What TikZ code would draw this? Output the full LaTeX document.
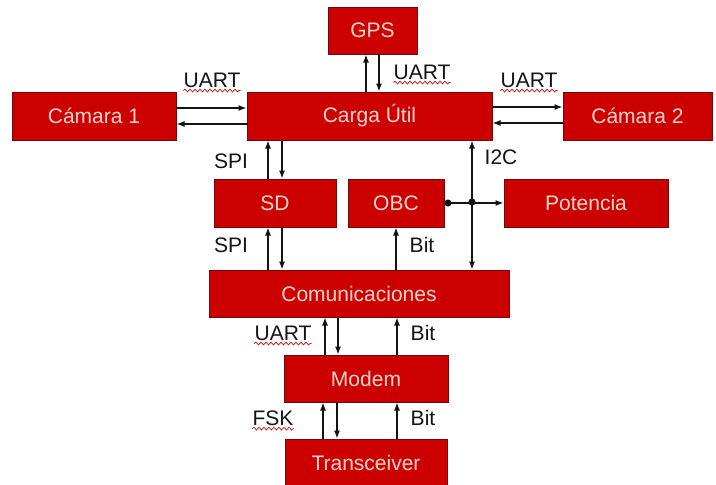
\documentclass[tikz,border=0pt]{standalone}
\usepackage{fontspec}
\setmainfont{Liberation Sans}
\usetikzlibrary{arrows.meta,decorations.pathmorphing}
\definecolor{boxred}{RGB}{204,0,0}
\definecolor{boxedge}{RGB}{110,10,10}
\definecolor{boxtext}{RGB}{255,214,204}
\definecolor{wire}{RGB}{20,20,20}
\definecolor{squigred}{RGB}{200,40,40}
\tikzset{
  box/.style={draw=boxedge, line width=1pt, fill=boxred, text=boxtext,
    inner sep=0pt, font=\fontsize{21}{24}\selectfont},
  lbl/.style={inner sep=0pt, text=wire, font=\fontsize{21}{24}\selectfont},
  arr/.style={draw=wire, line width=1.1pt, -{Latex[length=8pt,width=6pt]}},
  biarr/.style={draw=wire, line width=1.1pt, {Latex[length=8pt,width=6pt]}-{Latex[length=8pt,width=6pt]}},
  busarr/.style={draw=wire, line width=1.1pt, {Circle[length=7pt]}-{Latex[length=8pt,width=6pt]}},
  squig/.style={draw=squigred, line width=0.8pt, decorate,
    decoration={snake, amplitude=1.4pt, segment length=5pt}},
}
\newcommand{\boxat}[6]{% name, x1, y1, x2, y2, text
  \node[box, minimum width={(#4-#2)*1pt}, minimum height={(#5-#3)*1pt}]
    (#1) at ({(#2+#4)/2},{(#3+#5)/2}) {#6};}
\begin{document}
\begin{tikzpicture}[x=1pt, y=-1pt]
\useasboundingbox (0,0) rectangle (716,485);
\clip (0,0) rectangle (716,485);
\fill[white] (0,0) rectangle (716,485);

% blocks
\boxat{gps}{328}{7}{417}{54}{GPS}
\boxat{cam1}{12}{92}{176}{140}{Cámara 1}
\boxat{carga}{247}{92}{492}{140}{Carga Útil}
\boxat{cam2}{563}{92}{712}{140}{Cámara 2}
\boxat{sd}{214}{179}{336}{227}{SD}
\boxat{obc}{348}{179}{444}{227}{OBC}
\boxat{pot}{504}{179}{668}{227}{Potencia}
\boxat{com}{209}{270}{509}{317}{Comunicaciones}
\boxat{modem}{284}{355}{448}{402}{Modem}
\boxat{trans}{285}{439}{447}{486}{Transceiver}

% GPS link
\draw[arr] (carga.north -| 366,0) -- (gps.south -| 366,0);
\draw[arr] (gps.south -| 379,0) -- (carga.north -| 379,0);
\node[lbl] (uartgps) at (422,72) {UART};

% camera links
\draw[arr] (cam1.east |- 0,108) -- (carga.west |- 0,108);
\draw[arr] (carga.west |- 0,124) -- (cam1.east |- 0,124);
\node[lbl] (uartc1) at (212,80) {UART};
\draw[arr] (carga.east |- 0,107) -- (cam2.west |- 0,107);
\draw[arr] (cam2.west |- 0,123) -- (carga.east |- 0,123);
\node[lbl] (uartc2) at (529,80) {UART};

% SD links
\draw[arr] (sd.north -| 268,0) -- (carga.south -| 268,0);
\draw[arr] (carga.south -| 282,0) -- (sd.north -| 282,0);
\node[lbl] (spi1) at (231,161) {SPI};
\draw[arr] (com.north -| 268,0) -- (sd.south -| 268,0);
\draw[arr] (sd.south -| 282,0) -- (com.north -| 282,0);
\node[lbl] (spi2) at (231,245) {SPI};

% I2C bus
\draw[biarr] (com.north -| 472,0) -- (carga.south -| 472,0);
\node[lbl] (i2c) at (501,157) {I2C};
\draw[busarr] (obc.east) -- (pot.west);
\fill[wire] (472,202) coordinate (bus) circle (3.6pt);

% OBC bit line
\draw[arr] (com.north -| 396,0) -- (obc.south -| 396,0);
\node[lbl] (bit1) at (422,245) {Bit};

% modem links
\draw[arr] (modem.north -| 325,0) -- (com.south -| 325,0);
\draw[arr] (com.south -| 338,0) -- (modem.north -| 338,0);
\draw[arr] (modem.north -| 397,0) -- (com.south -| 397,0);
\node[lbl] (uartm) at (283,333) {UART};
\node[lbl] (bit2) at (423,333) {Bit};

% transceiver links
\draw[arr] (trans.north -| 323,0) -- (modem.south -| 323,0);
\draw[arr] (modem.south -| 337,0) -- (trans.north -| 337,0);
\draw[arr] (trans.north -| 397,0) -- (modem.south -| 397,0);
\node[lbl] (fsk) at (273,418) {FSK};
\node[lbl] (bit3) at (423,418) {Bit};

% spell-check underlines
\foreach \w in {uartgps,uartc1,uartc2,uartm,fsk}
  \draw[squig] ([yshift=-3pt]\w.south west) -- ([yshift=-3pt]\w.south east);
\end{tikzpicture}
\end{document}
